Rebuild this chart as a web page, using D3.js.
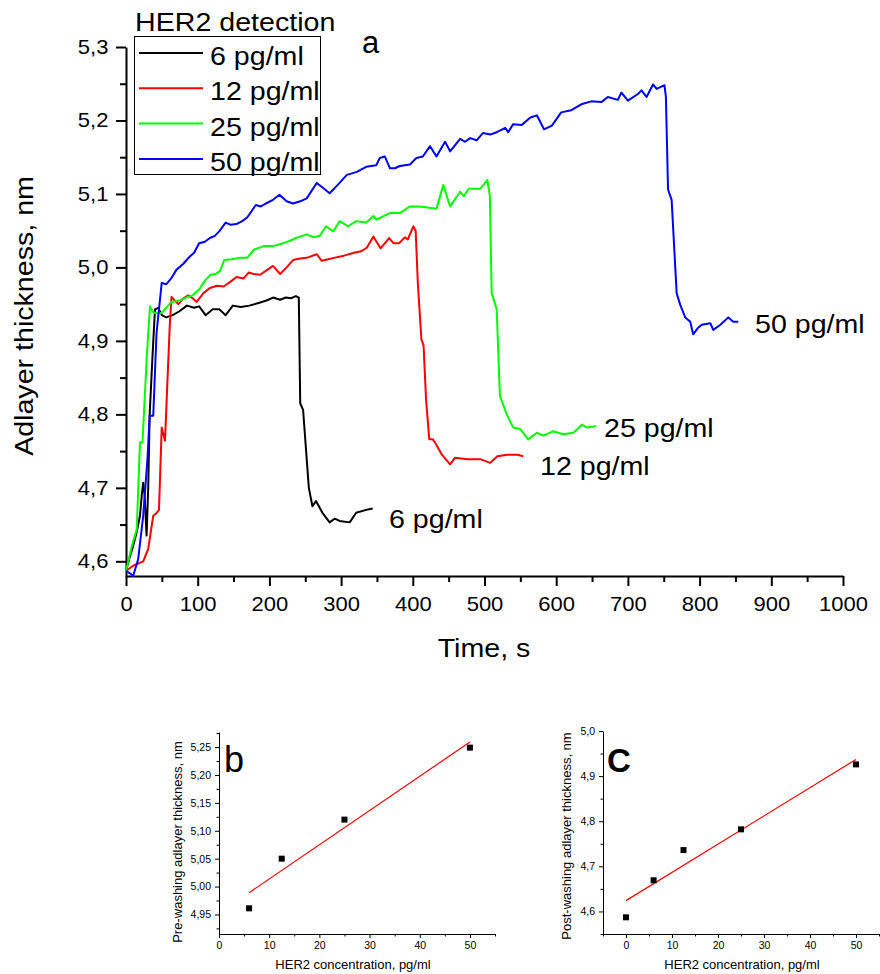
<!DOCTYPE html>
<html>
<head>
<meta charset="utf-8">
<script src="https://cdn.jsdelivr.net/npm/d3@7"></script>
<style>
  body { margin: 0; background: #fff; }
  text { font-family: "Liberation Sans", Arial, sans-serif; fill: #000; }
</style>
</head>
<body>
<div id="chart"></div>
<script>
// ---- data ----
// panel a: adlayer thickness (nm) vs time (s), [time, thickness]
const her2_6 = [[0,4.587],[5,4.605],[10,4.621],[15,4.64],[19.5,4.662],[22,4.69],[24,4.707],[26,4.69],[28.7,4.635],[31,4.70],[33,4.80],[37,4.88],[40.4,4.943],[45,4.945],[50,4.935],[56,4.932],[65,4.935],[74,4.94],[85,4.948],[95,4.945],[102,4.947],[111,4.935],[121,4.943],[130,4.943],[139,4.935],[149,4.948],[160,4.946],[172,4.948],[186,4.952],[196,4.955],[205,4.959],[215,4.956],[223,4.959],[230,4.958],[237,4.961],[241,4.959],[243,4.815],[247,4.806],[255,4.70],[260,4.675],[265,4.682],[274,4.666],[284,4.653],[291,4.658],[298,4.655],[312,4.653],[321,4.666],[335,4.67],[344,4.672]];
const her2_12 = [[0,4.587],[10,4.594],[24,4.60],[31,4.617],[38,4.662],[42,4.665],[46,4.67],[49.8,4.782],[54.4,4.764],[58,4.85],[61,4.92],[63.5,4.96],[68,4.955],[73,4.95],[80,4.958],[87,4.962],[93,4.958],[98.5,4.953],[108,4.965],[117,4.972],[127,4.975],[136,4.974],[145,4.98],[154,4.987],[164,4.985],[171,4.993],[178,4.991],[187,4.99],[196,4.996],[205,5.002],[215,4.991],[224,5.0],[233,5.010],[243,5.012],[252,5.013],[266,5.018],[273,5.009],[282,5.011],[290,5.013],[304,5.016],[318,5.020],[328,5.022],[336,5.027],[345,5.042],[355,5.026],[367,5.040],[373,5.033],[381,5.033],[389,5.041],[393,5.038],[400.7,5.056],[404,5.05],[407,4.979],[412,4.902],[415,4.894],[418.5,4.82],[423,4.766],[428,4.766],[432,4.76],[440,4.746],[452,4.732],[459,4.741],[476,4.739],[494,4.739],[508,4.734],[518,4.743],[532,4.745],[546,4.745],[554,4.743]];
const her2_25 = [[0,4.587],[8,4.62],[15,4.644],[19.5,4.762],[23,4.762],[29,4.879],[33.5,4.947],[37,4.94],[40.4,4.938],[49.8,4.938],[56,4.945],[63.5,4.953],[75,4.955],[84,4.959],[93,4.962],[102,4.97],[111,4.983],[118,4.99],[125,4.991],[131,4.995],[137,5.010],[148,5.011],[158,5.013],[169,5.013],[178,5.024],[192,5.029],[205,5.029],[219,5.033],[228,5.036],[237,5.04],[252,5.045],[262,5.041],[270,5.043],[279,5.056],[289,5.049],[298,5.063],[310,5.056],[321,5.063],[335,5.061],[345,5.07],[349,5.065],[368,5.074],[382,5.074],[396,5.083],[410,5.083],[433,5.08],[442.5,5.112],[452,5.083],[466,5.103],[471,5.097],[478,5.107],[494,5.107],[504,5.119],[507.5,5.097],[510,4.965],[517,4.943],[521.5,4.825],[531,4.80],[540,4.782],[550,4.78],[561,4.766],[573,4.775],[582,4.771],[596,4.777],[610,4.773],[624,4.775],[636,4.786],[643,4.782],[656,4.784]];
const her2_50 = [[0,4.587],[5,4.584],[10,4.58],[17,4.603],[24,4.662],[30,4.74],[33,4.798],[38,4.798],[42.6,4.911],[49.8,4.979],[56,4.977],[63,4.985],[70.5,4.997],[80,5.005],[89,5.015],[95,5.02],[102,5.033],[110,5.035],[117,5.04],[124,5.043],[130,5.049],[139,5.061],[146,5.058],[154,5.059],[162,5.063],[169,5.068],[181,5.085],[188,5.083],[195,5.087],[205,5.092],[214,5.099],[224,5.09],[233,5.087],[243,5.09],[252,5.094],[266,5.115],[275,5.108],[284,5.101],[295,5.112],[308,5.126],[322,5.13],[335,5.137],[349,5.139],[354,5.149],[361,5.151],[368,5.135],[375,5.135],[382,5.138],[396,5.14],[405,5.149],[414,5.151],[424,5.165],[433,5.151],[445,5.171],[452,5.158],[466,5.175],[473,5.171],[480,5.176],[489,5.173],[498,5.183],[508,5.181],[517,5.184],[529,5.19],[533,5.184],[540,5.195],[552,5.194],[564,5.204],[573,5.207],[583,5.188],[594,5.193],[607,5.211],[621,5.214],[635,5.222],[649,5.226],[663,5.225],[672,5.232],[686,5.228],[691,5.238],[700,5.227],[714,5.236],[719,5.241],[726,5.232],[735,5.249],[740,5.243],[751,5.248],[753,5.232],[756,5.106],[761,5.092],[768,4.965],[773,4.949],[780,4.932],[787,4.926],[791,4.909],[798,4.918],[803,4.922],[815,4.924],[819,4.915],[829,4.922],[840,4.932],[847,4.926],[854,4.926]];
const seriesNames = ["6 pg/ml", "12 pg/ml", "25 pg/ml", "50 pg/ml"];
const timeTicks = [0, 100, 200, 300, 400, 500, 600, 700, 800, 900, 1000];
const thickTicks = [4.6, 4.7, 4.8, 4.9, 5.0, 5.1, 5.2, 5.3];

// panel b: pre-washing thickness vs concentration
const concB = [6, 12.5, 25, 50];
const preWash = [4.961, 5.05, 5.12, 5.249];
const fitB = [[6, 4.989], [50, 5.259]];
const preTicks = [4.95, 5.00, 5.05, 5.10, 5.15, 5.20, 5.25];

// panel c: post-washing thickness vs concentration
const concC = [0, 6, 12.5, 25, 50];
const postWash = [4.587, 4.669, 4.736, 4.782, 4.926];
const fitC = [[0, 4.624], [50, 4.937]];
const postTicks = [4.6, 4.7, 4.8, 4.9, 5.0];
const concTicks = [0, 10, 20, 30, 40, 50];

const colors = ["#000000", "#ff0000", "#00ff00", "#0000ff"];
const comma = (d, n) => d.toFixed(n).replace(".", ",");

const svg = d3.select("#chart").append("svg")
    .attr("width", 880)
    .attr("height", 974);
svg.append("rect").attr("width", 880).attr("height", 974).attr("fill", "#fff");

// text with a slight horizontal stretch like the original rendering
function addText(parent, str, x, y, size, opts) {
    opts = opts || {};
    var tr = "translate(" + x + "," + y + ")";
    if (opts.rotate) tr += " rotate(" + opts.rotate + ")";
    tr += " scale(" + (opts.sx || 1) + ",1)";
    return parent.append("text")
        .attr("transform", tr)
        .attr("font-size", size)
        .attr("font-weight", opts.bold ? "bold" : "normal")
        .attr("text-anchor", opts.anchor || "start")
        .text(str);
}

// ===== panel a =====
var x = d3.scaleLinear().domain([0, 1000]).range([126, 843]);
var y = d3.scaleLinear().domain([4.58, 5.3]).range([576, 47]);

function styleAxis(g, w) {
    g.selectAll("path, line").attr("stroke", "#000").attr("stroke-width", w);
}

// minor ticks first
svg.append("g")
    .attr("transform", "translate(0," + y.range()[0] + ")")
    .call(d3.axisBottom(x).tickValues(d3.range(50, 1000, 100)).tickSize(6).tickFormat(""))
    .call(g => g.select(".domain").remove())
    .call(g => styleAxis(g, 2));
svg.append("g")
    .attr("transform", "translate(" + x.range()[0] + ",0)")
    .call(d3.axisLeft(y).tickValues(d3.range(4.65, 5.3, 0.1)).tickSize(6).tickFormat(""))
    .call(g => g.select(".domain").remove())
    .call(g => styleAxis(g, 2));

var xAxis = svg.append("g")
    .attr("transform", "translate(0," + y.range()[0] + ")")
    .call(d3.axisBottom(x).tickValues(timeTicks).tickSize(10).tickSizeOuter(0).tickPadding(11)
        .tickFormat(d3.format("d")))
    .call(g => styleAxis(g, 2));
xAxis.selectAll("text").attr("font-size", 20).attr("fill", "#000")
    .attr("font-family", "Liberation Sans, Arial, sans-serif")
    .attr("transform", "scale(1.1,1)");

var yAxis = svg.append("g")
    .attr("transform", "translate(" + x.range()[0] + ",0)")
    .call(d3.axisLeft(y).tickValues(thickTicks).tickSize(10).tickSizeOuter(0).tickPadding(6)
        .tickFormat(d => comma(d, 1)))
    .call(g => styleAxis(g, 2));
yAxis.selectAll("text").attr("font-size", 20).attr("fill", "#000")
    .attr("font-family", "Liberation Sans, Arial, sans-serif")
    .attr("transform", "scale(1.1,1)");

var line = d3.line()
    .x(d => x(d[0]))
    .y(d => y(d[1]));

[her2_6, her2_12, her2_25, her2_50].forEach(function (s, i) {
    svg.append("path")
        .datum(s)
        .attr("fill", "none")
        .attr("stroke", colors[i])
        .attr("stroke-width", 2)
        .attr("stroke-linejoin", "round")
        .attr("d", line);
});

// end labels next to each trace
var endLabels = [[389, 528], [540, 475], [604, 437], [755, 333]];
seriesNames.forEach(function (n, i) {
    addText(svg, n, endLabels[i][0], endLabels[i][1], 26, { sx: 1.1 });
});

// axis titles
addText(svg, "Time, s", 484, 657, 26, { sx: 1.1, anchor: "middle" });
addText(svg, "Adlayer thickness, nm", 33, 316, 26, { sx: 1.1, anchor: "middle", rotate: -90 });
addText(svg, "a", 362, 53, 31, {});

// legend
addText(svg, "HER2 detection", 135, 31, 26, { sx: 1.1 });
var legend = svg.append("g");
legend.append("rect")
    .attr("x", 134.5).attr("y", 36.5).attr("width", 186).attr("height", 138)
    .attr("fill", "#fff").attr("stroke", "#000").attr("stroke-width", 1);
seriesNames.forEach(function (n, i) {
    var ly = 53 + i * 35.3;
    legend.append("line")
        .attr("x1", 139).attr("x2", 203).attr("y1", ly).attr("y2", ly)
        .attr("stroke", colors[i]).attr("stroke-width", 2);
    addText(legend, n, 210, ly + 12, 26, { sx: 1.1 });
});

// ===== panels b and c =====
function scatterPanel(cfg) {
    var sx = d3.scaleLinear().domain(cfg.xDomain).range(cfg.xRange);
    var sy = d3.scaleLinear().domain(cfg.yDomain).range(cfg.yRange);
    var g = svg.append("g");

    g.append("g")
        .attr("transform", "translate(0," + cfg.yRange[0] + ")")
        .call(d3.axisBottom(sx).tickValues(cfg.xMinor).tickSize(2.5).tickFormat(""))
        .call(a => a.select(".domain").remove())
        .call(a => styleAxis(a, 1));
    g.append("g")
        .attr("transform", "translate(" + cfg.xRange[0] + ",0)")
        .call(d3.axisLeft(sy).tickValues(cfg.yMinor).tickSize(2.5).tickFormat(""))
        .call(a => a.select(".domain").remove())
        .call(a => styleAxis(a, 1));

    var xa = g.append("g")
        .attr("transform", "translate(0," + cfg.yRange[0] + ")")
        .call(d3.axisBottom(sx).tickValues(cfg.xTicks).tickSize(4).tickSizeOuter(0).tickPadding(4))
        .call(a => styleAxis(a, 1));
    xa.selectAll("text").attr("font-size", 10.5).attr("fill", "#111")
        .attr("font-family", "Liberation Sans, Arial, sans-serif");

    var ya = g.append("g")
        .attr("transform", "translate(" + cfg.xRange[0] + ",0)")
        .call(d3.axisLeft(sy).tickValues(cfg.yTicks).tickSize(4).tickSizeOuter(0).tickPadding(4)
            .tickFormat(d => comma(d, cfg.dec)))
        .call(a => styleAxis(a, 1));
    ya.selectAll("text").attr("font-size", 10.5).attr("fill", "#111")
        .attr("font-family", "Liberation Sans, Arial, sans-serif");

    g.append("path")
        .datum(cfg.fit)
        .attr("fill", "none")
        .attr("stroke", "#ff0000")
        .attr("stroke-width", 1.2)
        .attr("d", d3.line().x(d => sx(d[0])).y(d => sy(d[1])));

    g.selectAll("rect.pt")
        .data(cfg.xs)
        .enter().append("rect")
        .attr("class", "pt")
        .attr("x", d => sx(d) - 3)
        .attr("y", (d, i) => sy(cfg.ys[i]) - 3)
        .attr("width", 6).attr("height", 6)
        .attr("fill", "#000");

    addText(g, "HER2 concentration, pg/ml", cfg.xTitle[0], cfg.xTitle[1], 13, { anchor: "middle" });
    addText(g, cfg.yLabel, cfg.yTitle[0], cfg.yTitle[1], 13, { anchor: "middle", rotate: -90 });
    addText(g, cfg.tag, cfg.tagPos[0], cfg.tagPos[1], cfg.tagSize, { bold: cfg.tagBold });
}

scatterPanel({
    xDomain: [0, 55], xRange: [219, 495],
    yDomain: [4.915, 5.277], yRange: [934, 732],
    xTicks: concTicks, xMinor: d3.range(5, 56, 10),
    yTicks: preTicks, yMinor: d3.range(4.925, 5.28, 0.05), dec: 2,
    xs: concB, ys: preWash, fit: fitB,
    xTitle: [353, 969], yTitle: [182, 842],
    yLabel: "Pre-washing adlayer thickness, nm",
    tag: "b", tagPos: [224, 772], tagSize: 36, tagBold: false
});

scatterPanel({
    xDomain: [-5, 55], xRange: [603, 879],
    yDomain: [4.55, 5.0], yRange: [934, 731],
    xTicks: concTicks, xMinor: d3.range(-5, 56, 10),
    yTicks: postTicks, yMinor: d3.range(4.55, 5.0, 0.1), dec: 1,
    xs: concC, ys: postWash, fit: fitC,
    xTitle: [742, 969], yTitle: [571, 836],
    yLabel: "Post-washing adlayer thickness, nm",
    tag: "C", tagPos: [607, 772], tagSize: 33, tagBold: true
});
</script>
</body>
</html>
